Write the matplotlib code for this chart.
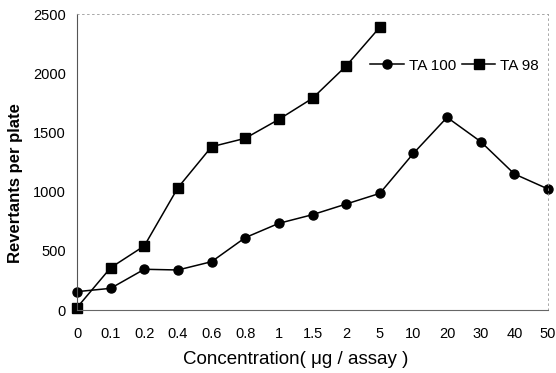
import matplotlib
matplotlib.use("Agg")
import matplotlib.pyplot as plt

categories = ["0", "0.1", "0.2", "0.4", "0.6", "0.8", "1", "1.5", "2", "5",
              "10", "20", "30", "40", "50"]
ta100 = [155, 183, 344, 338, 408, 611, 732, 805, 895, 985,
         1323, 1627, 1422, 1149, 1022]
ta98 = [20, 357, 541, 1033, 1379, 1450, 1610, 1788, 2061, 2388]
yticks = [0, 500, 1000, 1500, 2000, 2500]

plt.rcParams['font.family'] = ['Liberation Sans', 'DejaVu Sans']

fig = plt.figure(figsize=(5.56, 3.73), dpi=100)
ax = fig.add_axes([77/556, 1-310/373, (548-77)/556, (310-14)/373])

x100 = list(range(len(ta100)))
x98 = list(range(len(ta98)))
ax.plot(x100, ta100, color='black', lw=1.1, marker='o', ms=6.5, label='TA 100')
ax.plot(x98, ta98, color='black', lw=1.1, marker='s', ms=6.5, label='TA 98')

ax.set_xlim(0, len(categories)-1)
ax.set_ylim(0, 2500)
ax.set_xticks(range(len(categories)))
ax.set_xticklabels(categories, fontsize=10.5)
ax.set_yticks(yticks)
ax.set_yticklabels([str(v) for v in yticks], fontsize=10.5)
ax.tick_params(length=0, pad=12)
ax.tick_params(axis='y', pad=8)

for s in ['top', 'right']:
    ax.spines[s].set_linestyle((0, (2, 4)))
    ax.spines[s].set_color('#999999')
    ax.spines[s].set_linewidth(0.6)
ax.spines['left'].set_color('#555555')
ax.spines['bottom'].set_color('#666666')
ax.spines['left'].set_linewidth(0.8)
ax.spines['bottom'].set_linewidth(0.8)

for c in ax.get_lines():
    c.set_clip_on(False)

ax.set_xlabel('Concentration( μg / assay )', fontsize=13.5, labelpad=6)
ax.xaxis.set_label_coords(0.465, -0.14)
ax.set_ylabel('Revertants per plate', fontsize=12, fontweight='bold')
ax.yaxis.set_label_coords(-0.115, 0.43)

ax.legend(loc='upper right', bbox_to_anchor=(1.0, 0.88), ncol=2, frameon=False,
          fontsize=11, handlelength=2.2, handletextpad=0.3, columnspacing=0.4,
          borderaxespad=0.2)

fig.savefig('out.png', dpi=100)
